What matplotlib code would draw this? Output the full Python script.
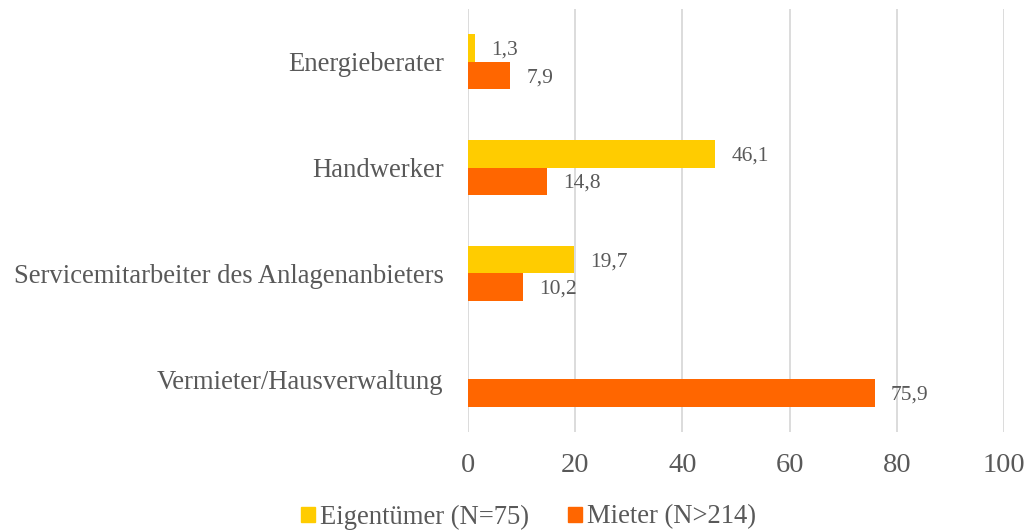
import matplotlib
matplotlib.use('Agg')
import matplotlib.pyplot as plt
import numpy as np
from matplotlib.patches import Patch

categories = ['Energieberater', 'Handwerker',
              'Servicemitarbeiter des Anlagenanbieters', 'Vermieter/Hausverwaltung']
eigentuemer = [1.3, 46.1, 19.7, None]
mieter = [7.9, 14.8, 10.2, 75.9]
series_names = ['Eigentümer (N=75)', 'Mieter (N>214)']
xticks = [0, 20, 40, 60, 80, 100]

YELLOW = '#FFCC00'
ORANGE = '#FF6600'
GREY = '#595959'

plt.rcParams['font.family'] = ['Liberation Serif', 'DejaVu Serif']

fig = plt.figure(figsize=(10.26, 5.31), dpi=100)
ax = fig.add_axes([468 / 1026, 1 - 432 / 531, 536 / 1026, 423 / 531])

y = np.arange(len(categories))
h = 0.26
for i, (e, m) in enumerate(zip(eigentuemer, mieter)):
    if e is not None:
        ax.barh(y[i] - h / 2, e, height=h, color=YELLOW)
        ax.text(e + 3.0, y[i] - h / 2 + 0.02, f'{e:.1f}'.replace('.', ','),
                va='center', ha='left', fontsize=15.5, color=GREY)
    ax.barh(y[i] + h / 2, m, height=h, color=ORANGE)
    ax.text(m + 3.0, y[i] + h / 2 + 0.02, f'{m:.1f}'.replace('.', ','),
            va='center', ha='left', fontsize=15.5, color=GREY)

ax.set_xlim(0, 100)
ax.set_ylim(len(categories) - 0.5, -0.5)
ax.set_xticks(xticks)
ax.set_xticklabels([str(t) for t in xticks], fontsize=20.5, color=GREY)
ax.set_yticks(y)
ax.set_yticklabels(categories, fontsize=19.2, color=GREY)
ax.tick_params(axis='both', length=0)
ax.tick_params(axis='x', pad=15)
ax.tick_params(axis='y', pad=17.5)
ax.grid(axis='x', color='#D9D9D9', linewidth=1.3)
ax.set_axisbelow(True)
for s in ax.spines.values():
    s.set_visible(False)

handles = [Patch(color=YELLOW), Patch(color=ORANGE)]
fig.legend(handles, series_names, loc='center', bbox_to_anchor=(528.5 / 1026, 1 - 517 / 531),
           ncol=2, frameon=False, fontsize=19.2, handlelength=0.53, handleheight=0.5,
           handletextpad=0.2, columnspacing=1.45, labelcolor=GREY,
           borderpad=0, borderaxespad=0)

fig.savefig('out.png', dpi=100)
